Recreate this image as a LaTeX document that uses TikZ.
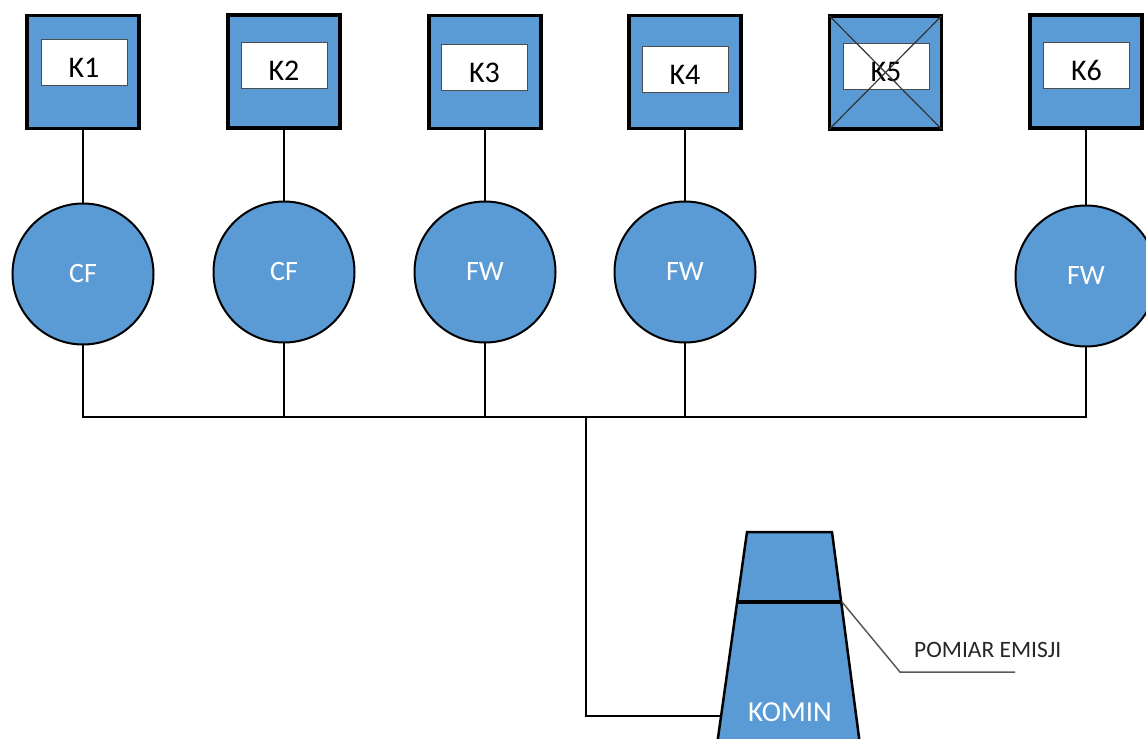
\documentclass[tikz,border=0pt]{standalone}
\usepackage{fontspec}
\setmainfont{Carlito}
\definecolor{boilerblue}{HTML}{5B9BD5}
\definecolor{leadergray}{HTML}{595959}
\begin{document}
\begin{tikzpicture}[x=1pt,y=-1pt,
  boiler/.style={draw=black,line width=3.5pt,fill=boilerblue,minimum width=112pt,minimum height=113pt,inner sep=0pt,outer sep=0pt},
  tag/.style={draw=black!70,line width=1pt,fill=white,minimum width=86pt,minimum height=46pt,inner sep=0pt,text height=30pt,text depth=0pt,font=\fontsize{30}{32}\selectfont},
  unit/.style={circle,draw=black,line width=2pt,fill=boilerblue,minimum size=141pt,inner sep=0pt,outer sep=0pt,text=white,font=\fontsize{28}{30}\selectfont},
  pipe/.style={line width=2pt,draw=black},
  cross/.style={line width=1.2pt,draw=black!80}]
\useasboundingbox (0,0) rectangle (1146,739);

% boilers
\node[boiler] (b1) at (83,72) {};
\node[boiler] (b2) at (284,71.5) {};
\node[boiler] (b3) at (485,72) {};
\node[boiler] (b4) at (685,72) {};
\node[boiler] (b5) at (885.5,72.5) {};
\node[boiler] (b6) at (1086,71.5) {};

% name plates
\node[tag] (t1) at (84,62.5) {K1};
\node[tag] (t2) at (284,65.5) {K2};
\node[tag] (t3) at (484.5,67) {K3};
\node[tag] (t4) at (685,69) {K4};
\node[tag] (t5) at (886,66) {K5};
\node[tag] (t6) at (1086.5,65.5) {K6};

% K5 out of service
\draw[cross] (b5.north west) -- (b5.south east);
\draw[cross] (b5.north east) -- (b5.south west);

% filter units
\node[unit] (u1) at (83,274) {CF};
\node[unit] (u2) at (284,272) {CF};
\node[unit] (u3) at (485,272) {FW};
\node[unit] (u4) at (685,272) {FW};
\node[unit] (u6) at (1086,276) {FW};

% boiler to filter
\foreach \i in {1,2,3,4,6} {
  \draw[pipe] (b\i.south) -- (u\i.north);
}

% collector duct
\coordinate (j1) at (u1.south |- 0,417);
\coordinate (j2) at (u2.south |- 0,417);
\coordinate (j3) at (u3.south |- 0,417);
\coordinate (j4) at (u4.south |- 0,417);
\coordinate (j6) at (u6.south |- 0,417);
\coordinate (jstack) at (586,417);
\coordinate (stackin) at (721,716);
\draw[pipe] (u1.south) -- (j1) -- (j6) -- (u6.south);
\foreach \i in {2,3,4} {
  \draw[pipe] (u\i.south) -- (j\i);
}
\draw[pipe] (jstack) |- (stackin);

% chimney
\draw[line width=2.5pt,fill=boilerblue,line join=miter]
  (747,532) -- (832,532) -- (860,745) -- (717,745) -- cycle;
\coordinate (mL) at (737.5,602);
\coordinate (mR) at (842,602);
\draw[line width=3.5pt] (mL) -- (mR);
\node[text=white,font=\fontsize{29}{30}\selectfont] (komin) at (790,712) {KOMIN};

% measurement point label
\coordinate (lk) at (900,672);
\coordinate (le) at (1015,672);
\draw[line width=1.5pt,draw=leadergray] (mR) -- (lk) -- (le);
\node[anchor=west,inner sep=0pt,text=black!85,font=\fontsize{23.5}{26}\selectfont] (pomiar) at (914,650) {POMIAR EMISJI};
\end{tikzpicture}
\end{document}
